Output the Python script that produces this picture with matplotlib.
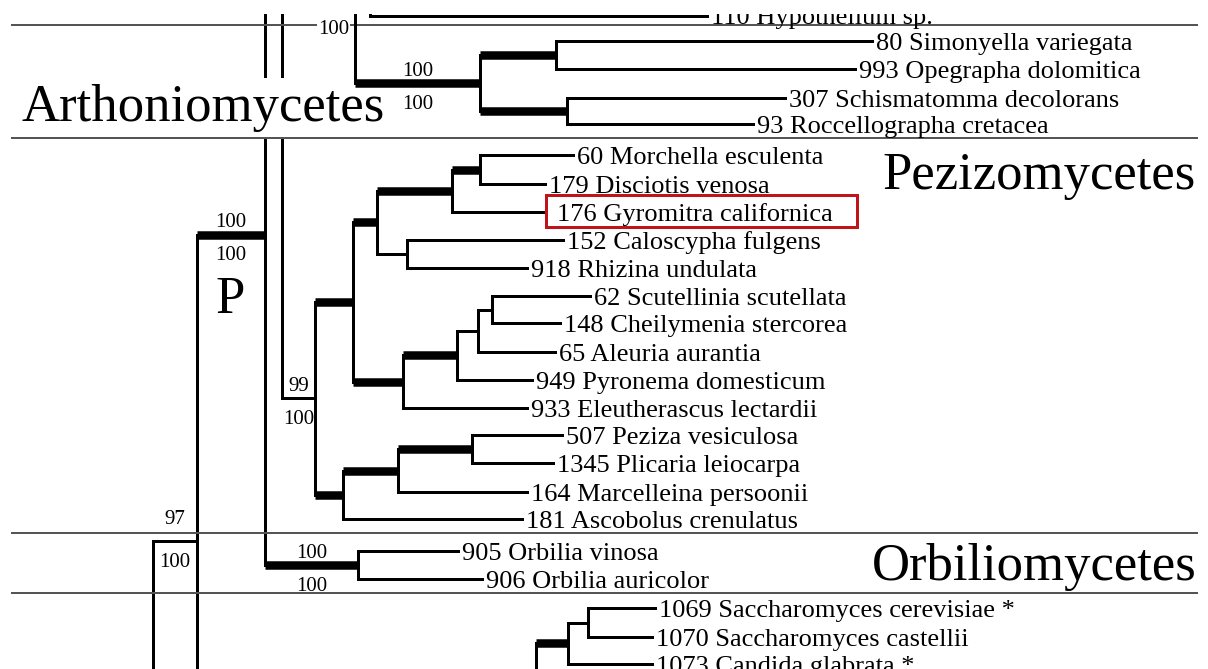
import matplotlib
matplotlib.use("Agg")
import matplotlib.pyplot as plt
from matplotlib.collections import LineCollection
from matplotlib.patches import Rectangle

plt.rcParams['font.family'] = ['Liberation Serif', 'DejaVu Serif']

# ---------------- data ----------------
tip_ids = ["t%d" % i for i in range(24)]
tip_labels = [
    "110 Hypothelium sp.", "80 Simonyella variegata", "993 Opegrapha dolomitica",
    "307 Schismatomma decolorans", "93 Roccellographa cretacea",
    "60 Morchella esculenta", "179 Disciotis venosa", "176 Gyromitra californica",
    "152 Caloscypha fulgens", "918 Rhizina undulata", "62 Scutellinia scutellata",
    "148 Cheilymenia stercorea", "65 Aleuria aurantia", "949 Pyronema domesticum",
    "933 Eleutherascus lectardii", "507 Peziza vesiculosa", "1345 Plicaria leiocarpa",
    "164 Marcelleina persoonii", "181 Ascobolus crenulatus", "905 Orbilia vinosa",
    "906 Orbilia auricolor", "1069 Saccharomyces cerevisiae *",
    "1070 Saccharomyces castellii", "1073 Candida glabrata *"]
tip_rows = [15.5, 41, 69, 98, 124, 155, 184, 212, 240, 268, 296, 323, 352, 380,
            408, 435, 463, 492, 519, 551, 579, 608, 637, 664]
tip_ends = [707, 872, 855, 785, 753, 573, 545, 546, 563, 527, 590, 560, 555, 532,
            527, 562, 553, 527, 522, 458, 482, 655, 652, 652]
highlight_tip = "176 Gyromitra californica"

# lineages that continue outside the cropped view
ghost_ids = ["g_top_a", "g_top_b", "g_bot_a", "g_bot_b", "g_bot_c"]
ghost_rows = [-590, -150, 848, 900, 760]

node_ids = ["n153", "n197", "n265", "n282", "n355", "n370", "n480a", "n556", "n567",
            "n315", "n353", "n377", "n452", "n480b", "n407", "n403", "n457", "n478",
            "n492", "n343", "n398", "n472", "n358", "n536", "n568", "n588"]
node_depth = [153, 197, 265, 282, 355, 370, 480, 556, 567,
              315, 353, 377, 452, 480, 407, 403, 457, 478,
              492, 343, 398, 472, 358, 536, 568, 588]
node_children = [
    ["n197", "g_bot_b"], ["n265", "g_bot_a"], ["n282", "n358"],
    ["g_top_a", "n355", "n315"], ["n370", "n480a"], ["g_top_b", "t0"],
    ["n556", "n567"], ["t1", "t2"], ["t3", "t4"],
    ["n353", "n343"], ["n377", "n403"], ["n452", "n407"], ["n480b", "t7"],
    ["t5", "t6"], ["t8", "t9"], ["n457", "t14"], ["n478", "t13"], ["n492", "t12"],
    ["t10", "t11"], ["n398", "t18"], ["n472", "t17"], ["t15", "t16"],
    ["t19", "t20"], ["n568", "g_bot_c"], ["n588", "t23"], ["t21", "t22"]]
bold_stem_nodes = ["n265", "n480a", "n556", "n567", "n353", "n377", "n452", "n480b",
                   "n403", "n457", "n343", "n398", "n472", "n358", "n568"]

support_nodes = ["n197", "n265", "n480a", "n315", "n358"]
support_above = ["97", "100", "100", "99", "100"]
support_below = ["100", "100", "100", "100", "100"]
top_support = "100"   # support for the node at n355 (stem above the crop)

clade_names = ["Arthoniomycetes", "Pezizomycetes", "Orbiliomycetes", "P"]
separator_rows = [25, 138, 532.5, 592.5]

# ---------------- layout ----------------
W, H = 1208, 669
fig = plt.figure(figsize=(W / 100, H / 100), dpi=100)
ax = fig.add_axes([0, 0, 1, 1])
ax.set_xlim(0, W)
ax.set_ylim(H, 0)
ax.axis('off')

px = 72 / 100  # points per pixel
THIN = 3 * px
BOLD = 8.5 * px

ypos = dict(zip(tip_ids, tip_rows))
ypos.update(dict(zip(ghost_ids, ghost_rows)))
xpos = dict(zip(tip_ids, tip_ends))
depth = dict(zip(node_ids, node_depth))
kids = dict(zip(node_ids, node_children))


def node_y(n):
    if n in ypos:
        return ypos[n]
    ys = [node_y(c) for c in kids[n]]
    ypos[n] = (ys[0] + ys[-1]) / 2
    return ypos[n]


for n in node_ids:
    node_y(n)

# nodes drawn above the big clade label
above_label = set()


def collect(n):
    above_label.add(n)
    for c in kids.get(n, []):
        if c in kids:
            collect(c)


collect("n355")

segs = {False: [], True: []}      # key: drawn above label
bold_segs = {False: [], True: []}
for n in node_ids:
    up = n in above_label
    x = depth[n]
    ys = [ypos[c] for c in kids[n]]
    segs[up].append([(x, min(ys)), (x, max(ys))])
    for c in kids[n]:
        if c in ghost_ids:
            continue
        cx = depth[c] if c in depth else xpos[c]
        seg = [(x, ypos[c]), (cx, ypos[c])]
        if c in bold_stem_nodes:
            bold_segs[up].append(seg)
        else:
            segs[up].append(seg)

for up, z in ((False, 2), (True, 4)):
    ax.add_collection(LineCollection(segs[up], colors='black', linewidths=THIN,
                                     capstyle='projecting', zorder=z))
    ax.add_collection(LineCollection(bold_segs[up], colors='black', linewidths=BOLD,
                                     capstyle='butt', zorder=z))

# separators
for y in separator_rows:
    ax.plot([11, 1198], [y, y], color='#555555', lw=2 * px, zorder=3.5,
            solid_capstyle='butt')

# tip labels
TIP_FS = 19
tip_base = 0.33 * TIP_FS / px
for tid, lab in zip(tip_ids, tip_labels):
    gap = 11 if lab == highlight_tip else 4
    ax.text(xpos[tid] + gap, ypos[tid] + tip_base, lab, fontsize=TIP_FS,
            ha='left', va='baseline', color='black', zorder=5)
    if lab == highlight_tip:
        ax.add_patch(Rectangle((xpos[tid], ypos[tid] - 17), 311, 32, fill=False,
                               edgecolor='#C0141A', lw=3 * px, zorder=6))

# support values
BS_FS = 15
bs_base = 0.33 * BS_FS / px
parent = {c: n for n in node_ids for c in kids[n]}
for n, a, b in zip(support_nodes, support_above, support_below):
    x0 = depth[parent[n]]
    xm = (x0 + depth[n]) / 2
    y = ypos[n]
    dy_up = -24 if n == "n197" else -14
    ax.text(xm, y + dy_up + bs_base, a, fontsize=BS_FS, ha='center', va='baseline', zorder=5)
    ax.text(xm, y + 19 + bs_base, b, fontsize=BS_FS, ha='center', va='baseline', zorder=5)
ax.text(depth["n355"] - 6, 27 + bs_base, top_support, fontsize=BS_FS, ha='right',
        va='baseline', zorder=5,
        bbox=dict(facecolor='white', edgecolor='none', pad=0.5))

# clade labels
CL_FS = 38
ax.text(22, 121, clade_names[0], fontsize=CL_FS, ha='left', va='baseline', zorder=3,
        bbox=dict(facecolor='white', edgecolor='none', pad=4))
ax.text(1196, 189, clade_names[1], fontsize=CL_FS, ha='right', va='baseline', zorder=5)
ax.text(1197, 580, clade_names[2], fontsize=CL_FS, ha='right', va='baseline', zorder=5)
ax.text(230, 313, clade_names[3], fontsize=CL_FS, ha='center', va='baseline', zorder=5)

# top of the crop
ax.add_patch(Rectangle((0, 0), W, 13.5, facecolor='white', edgecolor='none', zorder=10))

fig.savefig("out.png", dpi=100)
